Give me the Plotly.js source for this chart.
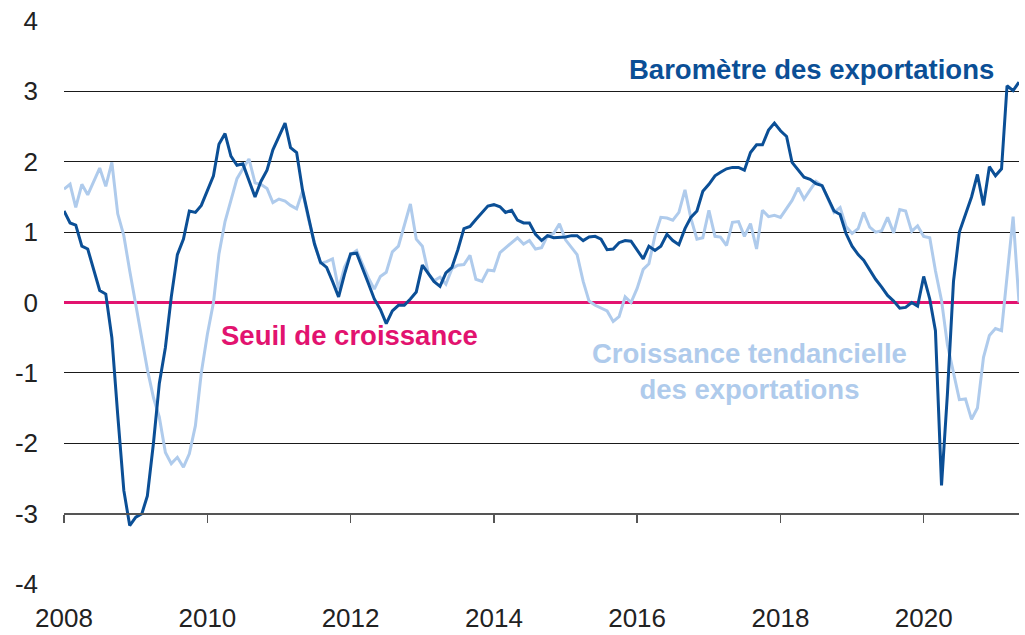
<!DOCTYPE html>
<html>
<head>
<meta charset="utf-8">
<script src="https://cdn.plot.ly/plotly-3.0.1.min.js"></script>
<style>
  html, body { margin: 0; padding: 0; background: #ffffff; }
  #chart { width: 1025px; height: 635px; }
</style>
</head>
<body>
<div id="chart"></div>
<script>
// Monthly series, January 2008 to May 2021
const startYear = 2008;
const startMonth = 1;

const barometre = [
  1.3, 1.13, 1.1, 0.8, 0.76, 0.45, 0.17, 0.12, -0.5, -1.6, -2.67, -3.17,
  -3.05, -3.0, -2.75, -2.0, -1.15, -0.64, 0.08, 0.68, 0.9, 1.3, 1.28, 1.38,
  1.6, 1.8, 2.25, 2.4, 2.08, 1.95, 1.97, 1.72, 1.5, 1.72, 1.88, 2.17,
  2.35, 2.55, 2.2, 2.13, 1.6, 1.2, 0.83, 0.57, 0.5, 0.3, 0.08, 0.4,
  0.69, 0.7, 0.5, 0.27, 0.05, -0.1, -0.3, -0.12, -0.04, -0.04, 0.05, 0.15,
  0.53, 0.41, 0.3, 0.23, 0.42, 0.5, 0.75, 1.05, 1.08, 1.18, 1.28, 1.37,
  1.39, 1.36, 1.28, 1.31, 1.17, 1.13, 1.13, 0.97, 0.88, 0.95, 0.92, 0.92,
  0.93, 0.95, 0.95, 0.88, 0.93, 0.94, 0.9, 0.75, 0.76, 0.85, 0.88, 0.87,
  0.75, 0.62, 0.8, 0.74, 0.8, 0.97, 0.88, 0.82, 1.05, 1.21, 1.3, 1.58,
  1.68, 1.8, 1.85, 1.9, 1.92, 1.92, 1.88, 2.13, 2.24, 2.24, 2.45, 2.55,
  2.44, 2.36, 1.99, 1.89, 1.78, 1.75, 1.69, 1.66, 1.47, 1.3, 1.25, 0.98,
  0.8, 0.68, 0.6, 0.47, 0.33, 0.22, 0.1, 0.02, -0.08, -0.07, 0.0, -0.05,
  0.37, 0.05, -0.4, -2.6, -1.3, 0.3, 1.0, 1.25, 1.5, 1.82, 1.38, 1.93,
  1.8, 1.9, 3.08, 3.01, 3.13
];

const tendance = [
  1.61, 1.68, 1.35, 1.68, 1.53, 1.72, 1.91, 1.65, 1.99, 1.26, 0.95, 0.45,
  -0.05, -0.5, -0.95, -1.35, -1.63, -2.13, -2.29, -2.2, -2.34, -2.15, -1.75, -1.0,
  -0.45, 0.0, 0.69, 1.15, 1.45, 1.76, 1.9, 2.04, 1.7, 1.68, 1.62, 1.42,
  1.47, 1.44, 1.38, 1.33, 1.58, 1.18, 0.85, 0.56, 0.58, 0.62, 0.19, 0.5,
  0.68, 0.74, 0.55, 0.35, 0.19, 0.37, 0.43, 0.72, 0.8, 1.1, 1.4, 0.9,
  0.8, 0.41, 0.31, 0.36, 0.26, 0.48, 0.53, 0.54, 0.67, 0.33, 0.3, 0.46,
  0.45, 0.71, 0.78, 0.85, 0.92, 0.83, 0.88, 0.76, 0.78, 0.95, 0.98, 1.12,
  0.89, 0.78, 0.68, 0.3, 0.02, -0.04, -0.08, -0.12, -0.27, -0.2, 0.08, 0.0,
  0.2, 0.47, 0.55, 0.95, 1.21, 1.2, 1.17, 1.28, 1.6, 1.2, 0.9, 0.92,
  1.31, 0.94, 0.93, 0.81, 1.14, 1.15, 0.94, 1.12, 0.76, 1.31, 1.22, 1.24,
  1.21, 1.33, 1.45, 1.63, 1.47, 1.6, 1.72, 1.66, 1.47, 1.28, 1.35, 1.08,
  0.98, 1.05, 1.28, 1.07, 1.0, 1.02, 1.21, 0.99, 1.32, 1.3, 1.01, 1.09,
  0.94, 0.92, 0.45, 0.03, -0.6, -1.0, -1.38, -1.37, -1.66, -1.5, -0.78, -0.47,
  -0.37, -0.4, 0.36, 1.22, 0.0
];

const yTickVals = [-4, -3, -2, -1, 0, 1, 2, 3, 4];
const yTickText = ["-4", "-3", "-2", "-1", "0", "1", "2", "3", "4"];
const xTickVals = ["2008-01-01", "2010-01-01", "2012-01-01", "2014-01-01", "2016-01-01", "2018-01-01", "2020-01-01"];
const xTickText = ["2008", "2010", "2012", "2014", "2016", "2018", "2020"];

const labelBarometre = "Baromètre des exportations";
const labelSeuil = "Seuil de croissance";
const labelTendance = "Croissance tendancielle<br>des exportations";

function pad(n) { return n < 10 ? "0" + n : "" + n; }
const dates = barometre.map(function (_, i) {
  const m = startMonth - 1 + i;
  const y = startYear + Math.floor(m / 12);
  return y + "-" + pad((m % 12) + 1) + "-01";
});

const xRange = ["2008-01-01", dates[dates.length - 1]];

const darkBlue = "#0b4f96";
const lightBlue = "#afcbec";
const magenta = "#e2136f";
const font = "Liberation Sans, Arial, sans-serif";

const traces = [
  {
    x: dates, y: tendance, type: "scatter", mode: "lines",
    line: { color: lightBlue, width: 3 }, hoverinfo: "skip", showlegend: false
  },
  {
    x: dates, y: barometre, type: "scatter", mode: "lines",
    line: { color: darkBlue, width: 3 }, hoverinfo: "skip", showlegend: false
  },
  {
    x: [dates[0]], y: [null], xaxis: "x2", type: "scatter", mode: "lines",
    hoverinfo: "skip", showlegend: false
  }
];

const layout = {
  width: 1025, height: 635,
  margin: { l: 64, r: 6, t: 21, b: 51 },
  paper_bgcolor: "#ffffff", plot_bgcolor: "#ffffff",
  showlegend: false,
  font: { family: font, color: "#222222", size: 26 },
  xaxis: {
    type: "date", range: xRange,
    tickmode: "array", tickvals: xTickVals, ticktext: xTickText,
    showgrid: false, zeroline: false, showline: false,
    ticks: "", ticklabelstandoff: 16,
    tickfont: { family: font, size: 26, color: "#222222" }
  },
  xaxis2: {
    type: "date", range: xRange, overlaying: "x", anchor: "free", position: 0.125,
    side: "bottom",
    tickmode: "array", tickvals: xTickVals,
    showticklabels: false, showgrid: false, zeroline: false,
    showline: true, linecolor: "#555555", linewidth: 2,
    ticks: "outside", ticklen: 8, tickwidth: 1.5, tickcolor: "#555555"
  },
  yaxis: {
    range: [-4, 4],
    tickmode: "array", tickvals: yTickVals, ticktext: yTickText,
    showgrid: true, gridcolor: "#1a1a1a", gridwidth: 1,
    zeroline: true, zerolinecolor: magenta, zerolinewidth: 3,
    showline: false, ticks: "", ticklabelstandoff: 25,
    tickfont: { family: font, size: 26, color: "#222222" }
  },
  annotations: [
    {
      xref: "paper", yref: "paper", x: 0.976, y: 0.913,
      xanchor: "right", yanchor: "middle", showarrow: false,
      text: "<b>" + labelBarometre + "</b>",
      font: { family: font, size: 27.5, color: darkBlue }
    },
    {
      xref: "paper", yref: "paper", x: 0.162, y: 0.442,
      xanchor: "left", yanchor: "middle", showarrow: false,
      text: "<b>" + labelSeuil + "</b>",
      font: { family: font, size: 27.5, color: magenta }
    },
    {
      xref: "paper", yref: "paper", x: 0.718, y: 0.378,
      xanchor: "center", yanchor: "middle", align: "center", showarrow: false,
      text: "<b>" + labelTendance.replace("<br>", "</b><br><b>") + "</b>",
      font: { family: font, size: 27.5, color: lightBlue }
    }
  ]
};

Plotly.newPlot("chart", traces, layout, { displayModeBar: false, staticPlot: true });
</script>
</body>
</html>
